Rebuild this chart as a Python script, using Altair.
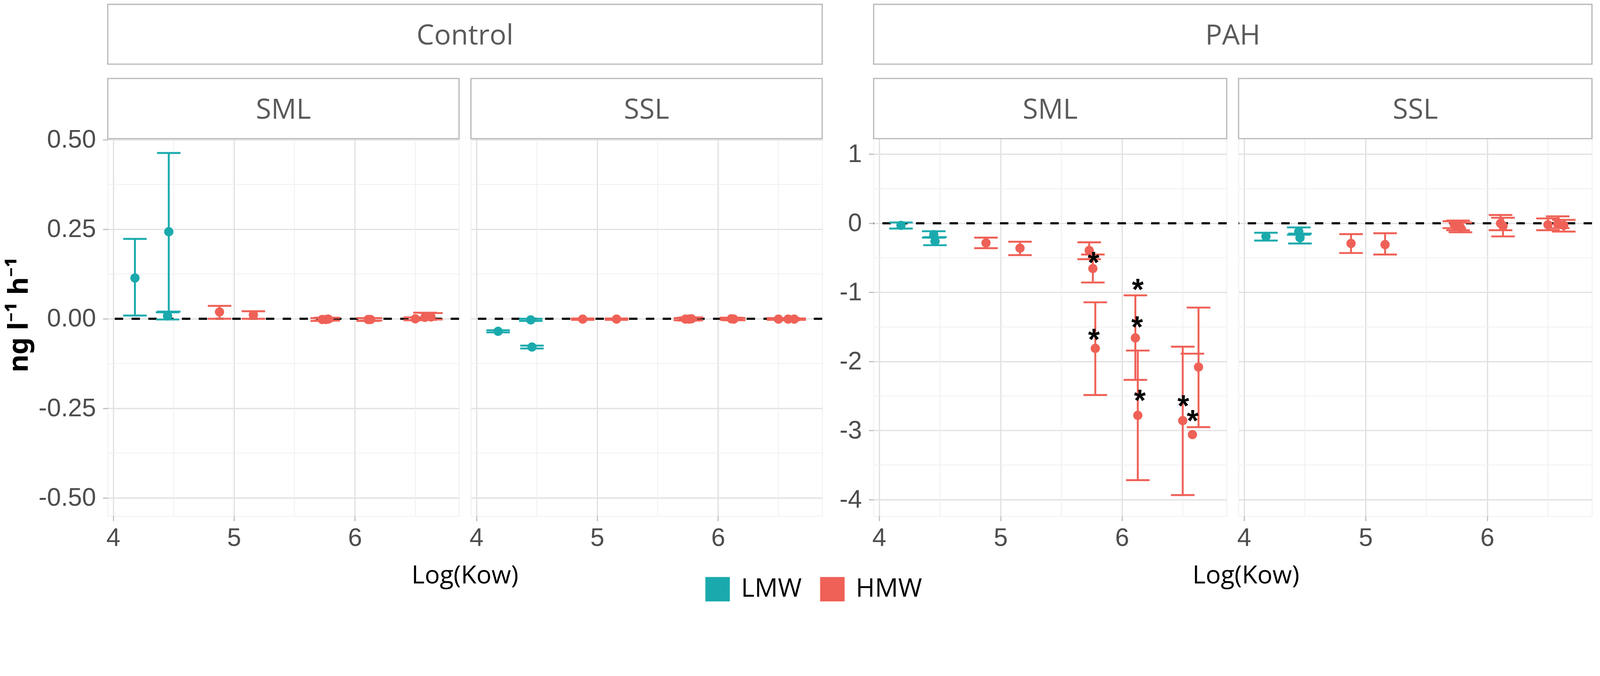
import altair as alt
import pandas as pd

# ------------------------------------------------------------------ data
treatments = ["Control", "PAH"]
layer_names = ["SML", "SSL"]
groups = ["LMW", "HMW"]

log_kow = [4.18, 4.45, 4.46, 4.88, 5.16, 5.73, 5.76, 5.78, 6.11, 6.13, 6.50, 6.58, 6.63]
mw_group = ["LMW", "LMW", "LMW", "HMW", "HMW", "HMW", "HMW", "HMW", "HMW", "HMW", "HMW", "HMW", "HMW"]

ctrl_sml_mean = [0.114, 0.008, 0.243, 0.019, 0.011, -0.002, -0.002, -0.001, -0.002, -0.002, 0.000, 0.004, 0.005]
ctrl_sml_lo = [0.009, -0.002, 0.020, 0.000, 0.000, -0.006, -0.005, -0.005, -0.006, -0.005, -0.004, -0.003, -0.002]
ctrl_sml_hi = [0.223, 0.018, 0.463, 0.036, 0.021, 0.002, 0.003, 0.003, 0.002, 0.002, 0.004, 0.017, 0.016]

ctrl_ssl_mean = [-0.035, -0.003, -0.079, -0.001, -0.001, -0.001, -0.001, 0.000, 0.000, -0.001, -0.001, -0.001, -0.001]
ctrl_ssl_lo = [-0.038, -0.006, -0.083, -0.003, -0.003, -0.004, -0.005, -0.004, -0.003, -0.004, -0.003, -0.004, -0.003]
ctrl_ssl_hi = [-0.032, 0.000, -0.075, 0.001, 0.001, 0.002, 0.003, 0.004, 0.003, 0.002, 0.002, 0.002, 0.001]

pah_sml_mean = [-0.030, -0.165, -0.260, -0.284, -0.360, -0.393, -0.655, -1.811, -1.659, -2.780, -2.856, -3.058, -2.081]
pah_sml_lo = [-0.076, -0.208, -0.317, -0.360, -0.461, -0.520, -0.857, -2.486, -2.267, -3.718, -3.934, None, -2.950]
pah_sml_hi = [0.012, -0.115, -0.200, -0.208, -0.267, -0.275, -0.452, -1.144, -1.043, -1.842, -1.786, -1.887, -1.220]

pah_ssl_mean = [-0.190, -0.120, -0.210, -0.292, -0.309, -0.020, -0.030, -0.060, 0.000, -0.040, -0.020, -0.010, -0.030]
pah_ssl_lo = [-0.250, -0.165, -0.292, -0.430, -0.452, -0.070, -0.100, -0.130, -0.100, -0.190, -0.100, -0.070, -0.120]
pah_ssl_hi = [-0.137, -0.060, -0.150, -0.157, -0.144, 0.030, 0.040, 0.010, 0.120, 0.080, 0.070, 0.100, 0.050]

# significance marks (PAH, SML)
ast_kow = [5.766, 5.769, 6.130, 6.124, 6.147, 6.505, 6.582]
ast_val = [-0.478, -1.590, -0.866, -1.406, -2.469, -2.552, -2.765]

x_ticks = [4, 5, 6]
x_minor = [4.5, 5.5, 6.5]
ctrl_yticks = [-0.5, -0.25, 0.0, 0.25, 0.5]
ctrl_yminor = [-0.375, -0.125, 0.125, 0.375]
pah_yticks = [-4, -3, -2, -1, 0, 1]
pah_yminor = [-3.5, -2.5, -1.5, -0.5, 0.5]

x_title = "Log(Kow)"
y_title = "ng l\u207b\u00b9 h\u207b\u00b9"

# ------------------------------------------------------------------ style
XDOM = [3.955, 6.862]
CTRL_YDOM = [-0.551, 0.503]
PAH_YDOM = [-4.238, 1.225]
H = 1079
CAP = 0.097
TEAL, RED = "#1AAAAD", "#EF6157"
GRID_MAJOR, GRID_MINOR = "#e1e1e1", "#eeeeee"
BORDER = "#b9b9b9"
TICK_FONT = "Liberation Sans"
TEXT_FONT = "Open Sans"

cscale = alt.Scale(domain=groups, range=[TEAL, RED])


def strip(text, width, y0, y1):
    one = pd.DataFrame({"label": [text]})
    box = alt.Chart(one).mark_rect(fill="white", stroke=BORDER, strokeWidth=3.5).encode(
        x=alt.value(0), x2=alt.value(width), y=alt.value(y0), y2=alt.value(y1)
    )
    lab = alt.Chart(one).mark_text(
        font=TEXT_FONT, fontSize=80, color="#5a5a5a", align="center", baseline="middle", dy=5
    ).encode(text="label:N", x=alt.value(width / 2), y=alt.value((y0 + y1) / 2))
    return [box, lab]


def panel(treat, lay, width, mean, lo, hi, ydom, yticks, yminor, fmt,
          show_y, outer_width=None, ast=False, xtitle_x=None, ytitle=False):
    df = pd.DataFrame({"kow": log_kow, "grp": mw_group, "mean": mean, "lo": lo, "hi": hi})
    df["xl"] = df["kow"] - CAP
    df["xr"] = df["kow"] + CAP
    df_lo = df.dropna(subset=["lo"])

    xs = alt.Scale(domain=XDOM, nice=False, zero=False)
    ys = alt.Scale(domain=ydom, nice=False, zero=False)

    xaxis = alt.Axis(
        title=None, values=x_ticks, grid=True, gridColor=GRID_MAJOR, gridWidth=3.5, domain=False,
        tickSize=14, tickWidth=3, tickColor=BORDER, labelFont=TICK_FONT, labelFontSize=72,
        labelColor="#4d4d4d", labelPadding=14, labelFlush=False, labelOverlap=False,
    )
    yaxis = alt.Axis(
        title=None, values=yticks, grid=True, gridColor=GRID_MAJOR, gridWidth=3.5, domain=False,
        ticks=show_y, labels=show_y, tickSize=14, tickWidth=3, tickColor=BORDER,
        labelFont=TICK_FONT, labelFontSize=72, labelColor="#4d4d4d", labelPadding=20,
        labelFlush=False, labelOverlap=False,
        labelExpr="replace(format(datum.value, '%s'), '\u2212', '-')" % fmt,
    )

    def X(f):
        return alt.X(f, type="quantitative", scale=xs, axis=xaxis)

    def Y(f):
        return alt.Y(f, type="quantitative", scale=ys, axis=yaxis)

    stroke = alt.Stroke("grp:N", scale=cscale, legend=None)
    color = alt.Color("grp:N", scale=cscale, legend=None)

    layers = [
        alt.Chart(pd.DataFrame({"v": x_minor})).mark_rule(color=GRID_MINOR, strokeWidth=2).encode(x=X("v")),
        alt.Chart(pd.DataFrame({"v": yminor})).mark_rule(color=GRID_MINOR, strokeWidth=2).encode(y=Y("v")),
        alt.Chart(pd.DataFrame({"v": [0]})).mark_rule(color="black", strokeWidth=6, strokeDash=[24, 24]).encode(y=Y("v")),
        alt.Chart(df_lo).mark_rule(strokeWidth=5.5).encode(x=X("kow"), y=Y("lo"), y2="hi", stroke=stroke),
        alt.Chart(df_lo).mark_rule(strokeWidth=5.5).encode(x=X("xl"), x2="xr", y=Y("lo"), stroke=stroke),
        alt.Chart(df).mark_rule(strokeWidth=5.5).encode(x=X("xl"), x2="xr", y=Y("hi"), stroke=stroke),
        alt.Chart(df).mark_circle(size=700, opacity=1).encode(x=X("kow"), y=Y("mean"), color=color),
    ]
    if ast:
        adf = pd.DataFrame({"kow": ast_kow, "val": ast_val})
        layers.append(
            alt.Chart(adf).mark_text(text="*", font=TICK_FONT, fontSize=86, fontWeight="bold",
                                     color="black", dy=22).encode(x=X("kow"), y=Y("val"))
        )
    layers += strip(lay, width, -172, 0)
    if outer_width is not None:
        layers += strip(treat, outer_width, -384, -213)
    if xtitle_x is not None:
        layers.append(
            alt.Chart(pd.DataFrame({"t": [x_title]})).mark_text(
                font=TEXT_FONT, fontSize=72, color="black", align="center", baseline="alphabetic"
            ).encode(text="t:N", x=alt.value(xtitle_x), y=alt.value(H + 192))
        )
    if ytitle:
        layers.append(
            alt.Chart(pd.DataFrame({"t": [y_title]})).mark_text(
                font="Noto Sans", fontSize=78, fontWeight="bold", color="black", angle=270,
                align="center", baseline="middle"
            ).encode(text="t:N", x=alt.value(-252), y=alt.value(503))
        )
    return alt.layer(*layers).properties(width=width, height=H)


W_C, W_PS, W_PL, GAP, W_SP = 1004, 1009, 1010, 34, 79

c_sml = panel("Control", "SML", W_C, ctrl_sml_mean, ctrl_sml_lo, ctrl_sml_hi, CTRL_YDOM,
              ctrl_yticks, ctrl_yminor, ".2f", True, outer_width=W_C + GAP + W_C,
              xtitle_x=(W_C + GAP + W_C) / 2, ytitle=True)
c_ssl = panel("Control", "SSL", W_C, ctrl_ssl_mean, ctrl_ssl_lo, ctrl_ssl_hi, CTRL_YDOM,
              ctrl_yticks, ctrl_yminor, ".2f", False)
p_sml = panel("PAH", "SML", W_PS, pah_sml_mean, pah_sml_lo, pah_sml_hi, PAH_YDOM,
              pah_yticks, pah_yminor, "d", True, outer_width=W_PS + GAP + W_PL,
              ast=True, xtitle_x=1064)
p_ssl = panel("PAH", "SSL", W_PL, pah_ssl_mean, pah_ssl_lo, pah_ssl_hi, PAH_YDOM,
              pah_yticks, pah_yminor, "d", False)

# spacer between the two treatment blocks; it also carries the shared legend
legend = alt.Legend(
    title=None, orient="none", legendX=-370, legendY=1251, direction="horizontal",
    symbolType="square", symbolSize=4900, symbolOpacity=1, labelLimit=0,
    labelFont=TEXT_FONT, labelFontSize=74, labelColor="black",
    labelOffset=30, columnPadding=50,
)
spacer = alt.Chart(pd.DataFrame({"grp": groups})).mark_circle(size=0, opacity=1).encode(
    x=alt.value(0), y=alt.value(0), color=alt.Color("grp:N", scale=cscale, legend=legend)
).properties(width=W_SP, height=H, view=alt.ViewBackground(stroke="transparent"))

chart = alt.hconcat(c_sml, c_ssl, spacer, p_sml, p_ssl, spacing=GAP, bounds="flush").resolve_scale(
    color="independent", stroke="independent"
).properties(
    padding={"left": 7, "top": -90.5, "right": 10, "bottom": -60}
).configure_view(stroke=BORDER, strokeWidth=3).configure(background="white")

chart.save("out.html", embed_options={"renderer": "svg", "actions": False})
